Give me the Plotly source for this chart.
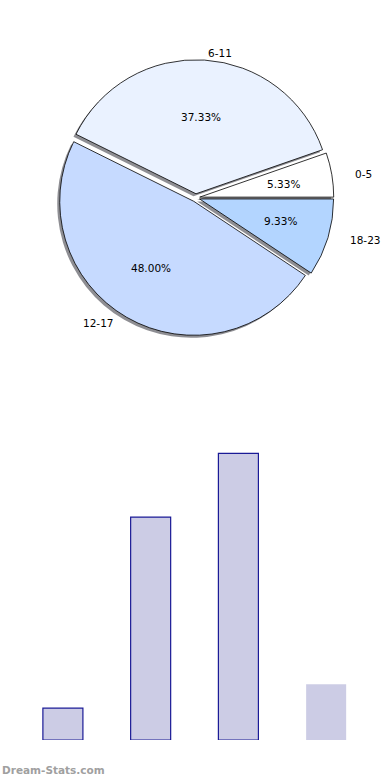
import numpy as np
import plotly.graph_objects as go

# ---- data ----
categories = ["0-5", "6-11", "12-17", "18-23"]
counts = [4, 28, 36, 7]
pie_colors = ["#FFFFFF", "#EAF2FF", "#C6DAFF", "#B3D5FF"]
bar_edge_colors = ["#1a1a96", "#1a1a96", "#1a1a96", "rgba(0,0,0,0)"]

# ---- layout constants (pixels) ----
W, H = 390, 780
cx, cy = 195.75, 197.8          # pie centre
R = 134                          # pie radius
PULL = 0.03
TXT_RX, TXT_RY = 141, 128        # text placement radii
SH_DX, SH_DY = -2.5, 2.5         # shadow offset

total = float(sum(counts))
# plotly (counterclockwise) places the first slice ending at `rotation`;
# shift so the first slice starts at 3 o'clock like the reference
ROT = 90 - 360 * counts[0] / total

def pie_domain(ox=0.0, oy=0.0):
    half = R * (1 + PULL)
    return dict(
        x=[(cx + ox - half) / W, (cx + ox + half) / W],
        y=[1 - (cy + oy + half) / H, 1 - (cy + oy - half) / H],
    )

fig = go.Figure()

# shadow
fig.add_trace(go.Pie(
    values=counts, labels=categories, sort=False, direction="counterclockwise",
    rotation=ROT, pull=[PULL] * len(counts), domain=pie_domain(SH_DX, SH_DY),
    marker=dict(colors=["rgba(30,30,40,0.5)"] * len(counts), line=dict(width=0)),
    textinfo="none", hoverinfo="skip", showlegend=False,
))
# main pie
fig.add_trace(go.Pie(
    values=counts, labels=categories, sort=False, direction="counterclockwise",
    rotation=ROT, pull=[PULL] * len(counts), domain=pie_domain(),
    marker=dict(colors=pie_colors, line=dict(color="#000000", width=0.8)),
    textinfo="none", hoverinfo="skip", showlegend=False,
))

# pie texts (matplotlib-style placement)
annotations = []
start = 0.0
pull_x, pull_y = PULL * TXT_RX, PULL * TXT_RY
for lab, v in zip(categories, counts):
    frac = v / total
    mid = np.deg2rad(360 * (start + frac / 2))
    start += frac
    c, s = np.cos(mid), np.sin(mid)
    px = cx + (pull_x + 0.6 * TXT_RX) * c
    py = cy - (pull_y + 0.6 * TXT_RY) * s
    annotations.append(dict(
        x=px / W, y=1 - py / H, xref="paper", yref="paper", showarrow=False,
        text=f"{frac * 100:.2f}%", xanchor="center", yanchor="middle",
        font=dict(family="DejaVu Sans", size=10.5, color="#000000"),
    ))
    lx = cx + (pull_x + 1.1 * TXT_RX) * c
    ly = cy - (pull_y + 1.1 * TXT_RY) * s
    annotations.append(dict(
        x=lx / W, y=1 - ly / H, xref="paper", yref="paper", showarrow=False,
        text=lab, xanchor="left" if c > 0 else "right", yanchor="middle",
        font=dict(family="DejaVu Sans", size=10.5, color="#000000"),
    ))

# bars
BAR_C0, BAR_STEP = 62.9, 87.75   # px
BASE_PX, UNIT_PX = 740, 7.96
Y_TOP_PAPER = 0.47
y_dom_bottom = 1 - BASE_PX / H
y_range_top = (BASE_PX - (1 - Y_TOP_PAPER) * H) / UNIT_PX

fig.add_trace(go.Bar(
    x=categories, y=counts, width=0.456,
    marker=dict(color="#CCCCE5", line=dict(color=bar_edge_colors, width=1.2)),
    hoverinfo="skip", showlegend=False, xaxis="x", yaxis="y",
))

annotations.append(dict(
    x=0, y=1 - 770 / H, xref="paper", yref="paper", showarrow=False,
    text="<b>Dream-Stats.com</b>", xanchor="left", yanchor="middle",
    font=dict(family="DejaVu Sans", size=10.5, color="#a0a0a0"),
))

fig.update_layout(
    width=W, height=H, margin=dict(l=0, r=0, t=0, b=0),
    paper_bgcolor="white", plot_bgcolor="white", showlegend=False,
    xaxis=dict(domain=[0, 1], range=[-BAR_C0 / BAR_STEP, (W - BAR_C0) / BAR_STEP],
               visible=False, fixedrange=True),
    yaxis=dict(domain=[y_dom_bottom, Y_TOP_PAPER], range=[0, y_range_top],
               visible=False, fixedrange=True),
    annotations=annotations,
)

fig.write_html(
    "out.html",
    config={"displayModeBar": False},
    post_script="document.body.style.margin='0px';document.body.style.overflow='hidden';",
)
